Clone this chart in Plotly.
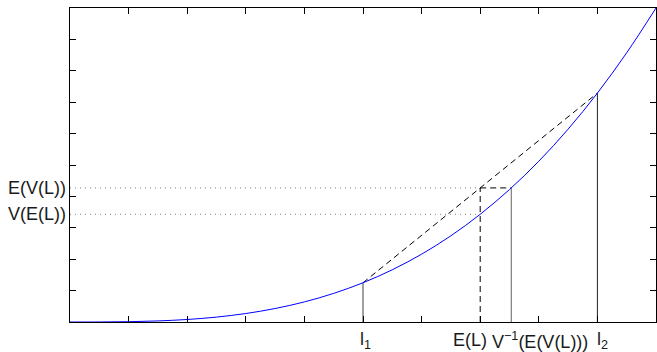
import plotly.graph_objects as go

# Curve V(L) (x in [0,1], y in [0,1])
curve_x = [0.0, 0.05, 0.1, 0.15, 0.2, 0.25, 0.3, 0.35, 0.4, 0.45, 0.5,
           0.55, 0.6, 0.65, 0.7, 0.75, 0.8, 0.85, 0.9, 0.95, 1.0]
curve_y = [0.0, 0.0001, 0.001, 0.0034, 0.008, 0.0156, 0.027, 0.0429, 0.064, 0.0911, 0.125,
           0.1664, 0.216, 0.2746, 0.343, 0.4219, 0.512, 0.6141, 0.729, 0.8574, 1.0]

# Key points
l1, V_l1 = 0.5, 0.125
l2, V_l2 = 0.9, 0.729
E_L = 0.7
E_VL = 0.427
V_EL = 0.343
Vinv_EVL = 0.753

tick_vals = [0.0, 0.1, 0.2, 0.3, 0.4, 0.5, 0.6, 0.7, 0.8, 0.9, 1.0]

fig = go.Figure()

def seg(xs, ys, color="black", dash="solid", width=1):
    fig.add_trace(go.Scatter(x=xs, y=ys, mode="lines", showlegend=False, hoverinfo="skip",
                             line=dict(color=color, width=width, dash=dash)))

# dotted horizontals
seg([0, E_L], [E_VL, E_VL], color="#808080", dash="1px,4px")
seg([0, E_L], [V_EL, V_EL], color="#808080", dash="1px,4px")
# chord
seg([l1, l2], [V_l1, V_l2], dash="6px,4px")
# verticals
seg([l1, l1], [0, V_l1], color="#404040")
seg([E_L, E_L], [0, E_VL], dash="6px,4px")
seg([E_L, Vinv_EVL], [E_VL, E_VL], dash="6px,4px")
seg([Vinv_EVL, Vinv_EVL], [0, E_VL], color="#606060")
seg([l2, l2], [0, V_l2], color="#202020")

# curve
fig.add_trace(go.Scatter(x=curve_x, y=curve_y, mode="lines", showlegend=False, hoverinfo="skip",
                         line=dict(color="#0000ff", width=1, shape="spline")))

font = dict(family="Liberation Sans, Arial, sans-serif", size=18, color="#1a1a1a")

ann = []
# y labels
for yv, txt in [(E_VL, "E(V(L))"), (V_EL, "V(E(L))")]:
    ann.append(dict(x=0, y=yv, xref="paper", yref="y", text=txt, showarrow=False,
                    xanchor="right", yanchor="middle", xshift=-2, font=font))
# x labels
for xv, txt, anchor, shift in [(l1, "l<sub>1</sub>", "left", -5),
                               (E_L, "E(L)", "center", -10),
                               (Vinv_EVL, "V<sup>−1</sup>(E(V(L)))", "left", -21),
                               (l2, "l<sub>2</sub>", "left", -2)]:
    ann.append(dict(x=xv, y=0, xref="x", yref="paper", text=txt, showarrow=False,
                    xanchor=anchor, yanchor="middle", xshift=shift, yshift=-18, font=font))

fig.update_layout(
    width=657, height=352,
    margin=dict(l=70, r=1, t=8, b=30),
    paper_bgcolor="white", plot_bgcolor="white",
    annotations=ann,
    xaxis=dict(range=[0, 1], tickvals=tick_vals, showticklabels=False, ticks="inside",
               ticklen=6, tickcolor="black", showgrid=False, zeroline=False,
               showline=True, linecolor="black", linewidth=1, mirror="ticks"),
    yaxis=dict(range=[0, 1], tickvals=tick_vals, showticklabels=False, ticks="inside",
               ticklen=6, tickcolor="black", showgrid=False, zeroline=False,
               showline=True, linecolor="black", linewidth=1, mirror="ticks"),
)

fig.write_html("out.html", config={"displayModeBar": False},
               post_script="document.body.style.margin='0';document.body.style.overflow='hidden';")
